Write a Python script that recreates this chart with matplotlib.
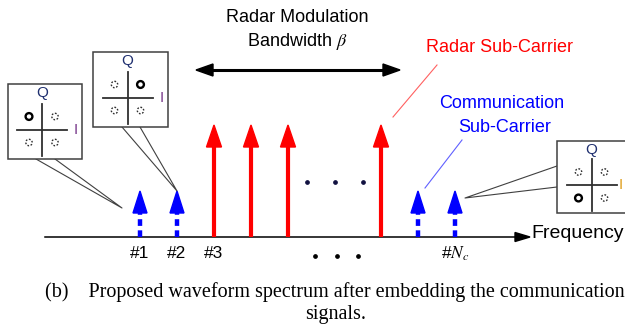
import matplotlib.pyplot as plt
from matplotlib.patches import Polygon, Rectangle, Circle

plt.rcParams['mathtext.fontset'] = 'stix'

# sub-carrier positions along the frequency axis (px)
radar_x = [214, 251, 288, 381]
comm_x = [140, 177, 418, 455]
carrier_labels = ['#1', '#2', '#3']
label_x = [140, 177, 214]
dots_top_x = [307, 335, 363]
dots_bot_x = [315, 337, 358]

# QPSK constellation boxes: (left, top, width, height), active symbol quadrant, I colour, tail
boxes = [
    dict(box=(8, 84, 74, 75), active=(-1, 1), icol='#7a3c8c',
         tail=[(36, 159), (122, 208), (55, 159)]),
    dict(box=(93, 52, 75, 75), active=(1, 1), icol='#7a3c8c',
         tail=[(122, 127), (177, 191), (140, 127)]),
    dict(box=(557, 141, 75, 72), active=(-1, -1), icol='#e0a020',
         tail=[(557, 166), (465, 198), (557, 187)]),
]

fig = plt.figure(figsize=(6.25, 3.3), dpi=100)
ax = fig.add_axes([0, 0, 1, 1])
ax.set_xlim(0, 625)
ax.set_ylim(330, 0)
ax.axis('off')

sans = 'Liberation Sans'
serif = 'Liberation Serif'
base_y = 237

# frequency axis
ax.plot([45, 518], [base_y, base_y], color='black', lw=1.1)
ax.add_patch(Polygon([(530, base_y), (515, base_y - 4.5), (515, base_y + 4.5)], color='black'))
ax.text(531, base_y - 3, 'Frequency', fontsize=14, family=sans, va='center', ha='left')

# radar sub-carriers
for x in radar_x:
    ax.plot([x, x], [base_y, 146], color='red', lw=3, solid_capstyle='butt')
    ax.add_patch(Polygon([(x - 7.5, 147), (x + 7.5, 147), (x, 125)], color='red'))

# communication sub-carriers
for x in comm_x:
    ax.plot([x, x], [base_y, 213], color='blue', lw=3.2, ls=(0, (1.5, 1.0)), solid_capstyle='butt')
    ax.add_patch(Polygon([(x - 7, 213), (x + 7, 213), (x, 191)], color='blue'))

for x in dots_top_x:
    ax.plot(x, 182, 'o', ms=2.4, color='#101040')
for x in dots_bot_x:
    ax.plot(x, 256, 'o', ms=2.4, color='black')

for x, t in zip(label_x, carrier_labels):
    ax.text(x, 253, t, fontsize=12.5, family=sans, ha='center', va='center')
ax.text(455, 254, r'#$N_c$', fontsize=12.5, family=sans, ha='center', va='center')

# bandwidth double arrow
ax.plot([210, 386], [70, 70], color='black', lw=2.2)
ax.add_patch(Polygon([(196, 70), (213, 64), (213, 76)], color='black'))
ax.add_patch(Polygon([(400, 70), (383, 64), (383, 76)], color='black'))
ax.text(297, 18, 'Radar Modulation', fontsize=13, family=sans, ha='center', va='center')
ax.text(297, 42, r'Bandwidth $\beta$', fontsize=13, family=sans, ha='center', va='center')

# legend-style annotations
ax.text(500, 48, 'Radar Sub-Carrier', fontsize=13, family=sans, color='red', ha='center', va='center')
ax.plot([437, 393], [65, 117], color='#ff6060', lw=0.8)
ax.text(502, 104, 'Communication', fontsize=13, family=sans, color='blue', ha='center', va='center')
ax.text(505, 127, 'Sub-Carrier', fontsize=13, family=sans, color='blue', ha='center', va='center')
ax.plot([462, 425], [140, 188], color='#6060ff', lw=0.8)

# constellation callouts
for b in boxes:
    x0, y0, w, h = b['box']
    ax.add_patch(Rectangle((x0, y0), w, h, fill=True, facecolor='white', edgecolor='#404040', lw=1.1, zorder=3))
    tx, ty = zip(*b['tail'])
    ax.plot(tx, ty, color='#404040', lw=0.8, zorder=2)
    cx = x0 + w / 2 - 3
    cy = y0 + h / 2 + 8
    ax.text(cx, y0 + 9, 'Q', fontsize=11, family=sans, color='#203070', ha='center', va='center', zorder=4)
    ax.plot([cx - 25, cx + 25], [cy, cy], color='#303030', lw=1.3, zorder=4)
    ax.plot([cx, cx], [cy - 26, cy + 26], color='#303030', lw=1.3, zorder=4)
    ix = min(cx + 34, 621)
    ax.text(ix, cy, 'I', fontsize=11, family=sans, color=b['icol'], ha='center', va='center', zorder=4)
    for sx in (-1, 1):
        for sy in (-1, 1):
            px, py = cx + sx * 13, cy - sy * 13
            if (sx, sy) == b['active']:
                ax.add_patch(Circle((px, py), 3.4, fill=False, edgecolor='black', lw=1.7, zorder=4))
            else:
                ax.add_patch(Circle((px, py), 3.2, fill=False, edgecolor='#303030', lw=1.0,
                                    ls=(0, (1.2, 1.2)), zorder=4))

# caption
ax.text(45, 292, '(b)    Proposed waveform spectrum after embedding the communication',
        fontsize=14.5, family=serif, ha='left', va='center')
ax.text(336, 314, 'signals.', fontsize=14.5, family=serif, ha='center', va='center')

fig.savefig('out.png', dpi=100)
